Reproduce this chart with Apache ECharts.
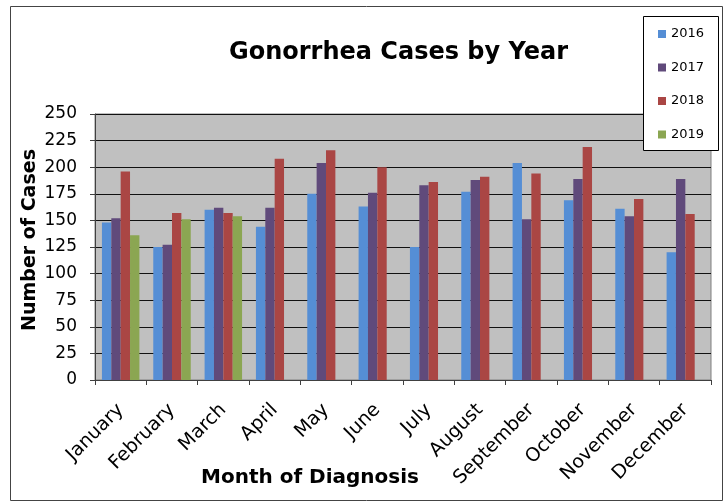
<!DOCTYPE html>
<html>
<head>
<meta charset="utf-8">
<script src="https://cdn.jsdelivr.net/npm/echarts@6/dist/echarts.min.js"></script>
<style>
  html, body { margin: 0; padding: 0; background: #fff; }
  #chart { width: 727px; height: 502px; }
</style>
</head>
<body>
<div id="chart"></div>
<script>
// chart data
var months = ['January', 'February', 'March', 'April', 'May', 'June',
  'July', 'August', 'September', 'October', 'November', 'December'];
var years = ['2016', '2017', '2018', '2019'];
var cases2016 = [148, 125, 160, 144, 175, 163, 125, 177, 204, 169, 161, 120];
var cases2017 = [152, 127, 162, 162, 204, 176, 183, 188, 151, 189, 154, 189];
var cases2018 = [196, 157, 157, 208, 216, 200, 186, 191, 194, 219, 170, 156];
var cases2019 = [136, 151, 154, '-', '-', '-', '-', '-', '-', '-', '-', '-'];
var yTicks = [0, 25, 50, 75, 100, 125, 150, 175, 200, 225, 250];

var colors = ['#558ed5', '#604a7b', '#aa4644', '#8ba652'];
var font = 'DejaVu Sans';

var myChart = echarts.init(document.getElementById('chart'));

var seriesData = [cases2016, cases2017, cases2018, cases2019];
var series = [];
for (var i = 0; i < years.length; i++) {
  series.push({
    name: years[i],
    type: 'bar',
    barGap: '0%',
    barCategoryGap: '27%',
    itemStyle: { color: colors[i] },
    data: seriesData[i]
  });
}

var option = {
  animation: false,
  color: colors,
  title: {
    text: 'Gonorrhea Cases by Year',
    left: 224,
    top: 36,
    textStyle: { fontFamily: font, fontSize: 24, fontWeight: 'bold', color: '#000' }
  },
  legend: {
    data: years,
    orient: 'vertical',
    left: 658,
    top: 26,
    padding: 0,
    z: 10,
    itemWidth: 8,
    itemHeight: 8,
    itemGap: 17.5,
    icon: 'rect',
    textStyle: { fontFamily: font, fontSize: 13, color: '#000', lineHeight: 16 }
  },
  grid: {
    left: 95,
    right: 16,
    top: 114,
    bottom: 122,
    show: true,
    backgroundColor: '#c0c0c0',
    borderColor: '#808080',
    borderWidth: 1
  },
  xAxis: {
    type: 'category',
    data: months,
    axisLine: { lineStyle: { color: '#404040', width: 1 } },
    axisTick: { show: true, length: 5, lineStyle: { color: '#404040' } },
    axisLabel: {
      rotate: 45,
      margin: 27,
      fontFamily: font,
      fontSize: 19,
      color: '#000'
    }
  },
  yAxis: {
    type: 'value',
    min: yTicks[0],
    max: yTicks[yTicks.length - 1],
    interval: 25,
    axisLine: { show: true, lineStyle: { color: '#404040', width: 1 } },
    axisTick: { show: true, length: 5, lineStyle: { color: '#404040' } },
    axisLabel: { margin: 18, fontFamily: font, fontSize: 17, color: '#000' },
    splitLine: { lineStyle: { color: '#111', width: 1 } }
  },
  graphic: [
    {
      type: 'rect',
      z: -1,
      shape: { x: 10.5, y: 6.5, width: 712, height: 494 },
      style: { fill: 'none', stroke: '#444', lineWidth: 1 }
    },
    {
      type: 'rect',
      z: 5,
      shape: { x: 643.5, y: 16.5, width: 75, height: 134 },
      style: { fill: '#fff', stroke: '#000', lineWidth: 1 }
    },
    {
      type: 'text',
      x: 30,
      y: 240,
      rotation: Math.PI / 2,
      style: {
        text: 'Number of Cases',
        font: 'bold 19px "DejaVu Sans"',
        fill: '#000',
        textAlign: 'center',
        textVerticalAlign: 'middle'
      }
    },
    {
      type: 'text',
      x: 310,
      y: 478,
      style: {
        text: 'Month of Diagnosis',
        font: 'bold 20px "DejaVu Sans"',
        fill: '#000',
        textAlign: 'center',
        textVerticalAlign: 'middle'
      }
    }
  ],
  series: series
};

myChart.setOption(option);
window.addEventListener('resize', function () {
  myChart.resize();
});
</script>
</body>
</html>
